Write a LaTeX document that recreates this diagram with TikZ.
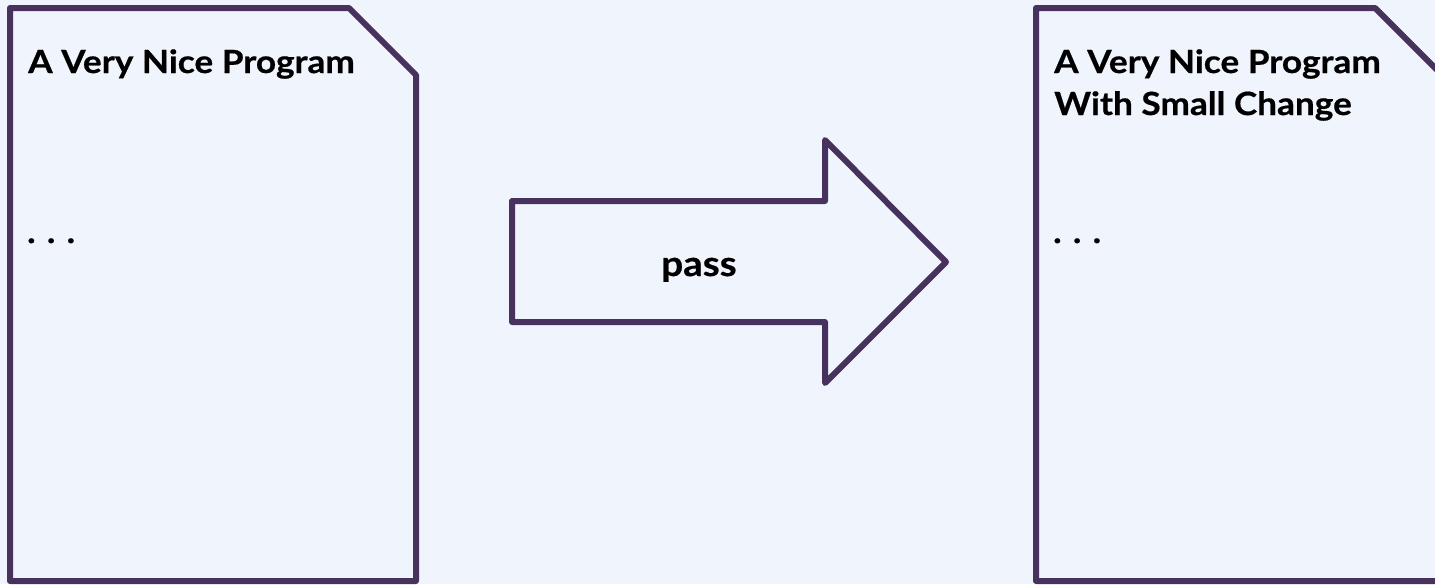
\documentclass[tikz,border=0pt]{standalone}
\usepackage{fontspec}
\setmainfont{Lato}[UprightFont=* Bold,FakeStretch=1.1,FakeBold=0.6]
\definecolor{bgc}{HTML}{F0F4FC}
\definecolor{ink}{HTML}{47325E}
\begin{document}
\begin{tikzpicture}[x=1pt,y=-1pt,
  outline/.style={draw=ink,line width=6pt,line join=round,fill=bgc},
  label/.style={inner sep=0pt,anchor=base west,font=\fontsize{32}{42}\selectfont}]
\useasboundingbox[fill=bgc] (0,0) rectangle (1435,584);
% left document
\draw[outline] (10,581) -- (10,8) -- (349,8) -- (416,75) -- (416,581) -- cycle;
% right document
\draw[outline] (1036,581) -- (1036,8) -- (1375,8) -- (1442,75) -- (1442,581) -- cycle;
% arrow
\draw[outline] (512,201) -- (825,201) -- (825,140) -- (946,262) -- (825,383) -- (825,322) -- (512,322) -- cycle;
\node[label] (t1) at (28,73) {A Very Nice Program};
\node[label] (d1) at (27,243) {. . .};
\node[label] (t2) at (1054,73) {A Very Nice Program};
\node[label] (t3) at (1054,115) {With Small Change};
\node[label] (d2) at (1053,243) {. . .};
\node[inner sep=0pt,anchor=base,font=\fontsize{35}{42}\selectfont] (p) at (699,276) {pass};
\end{tikzpicture}
\end{document}
